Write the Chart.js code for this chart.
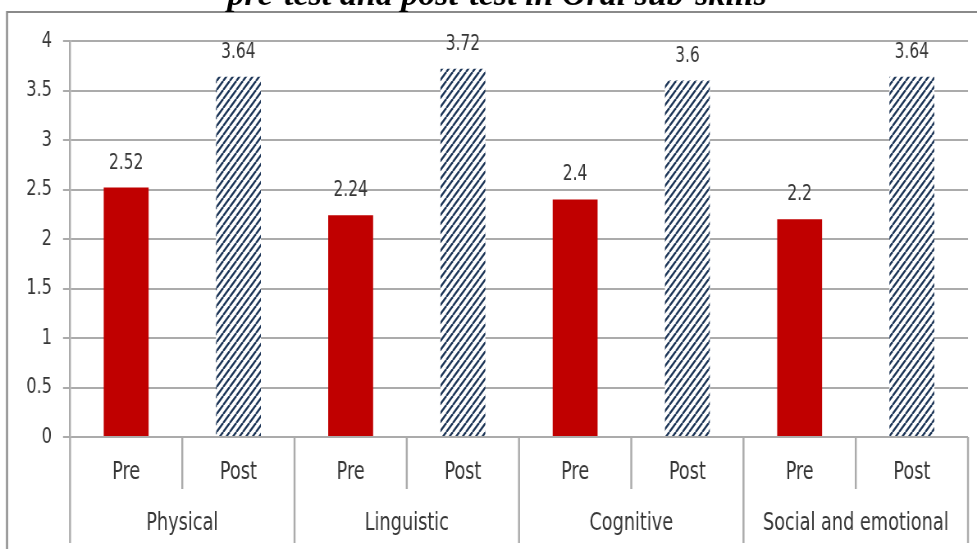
<!DOCTYPE html>
<html>
<head>
<meta charset="utf-8">
<script src="https://cdn.jsdelivr.net/npm/chart.js@4.4.1/dist/chart.umd.min.js"></script>
<style>
  html, body { margin: 0; padding: 0; background: #ffffff; }
  #wrap { width: 977px; height: 549px; overflow: hidden; }
</style>
</head>
<body>
<div id="wrap"><canvas id="chart" style="width:977px;height:549px"></canvas></div>
<script>
// Oral sub-skill scores, pre-test vs post-test
const skills = ['Physical', 'Linguistic', 'Cognitive', 'Social and emotional'];
const testLabels = ['Pre', 'Post'];
const preScores = [2.52, 2.24, 2.4, 2.2];
const postScores = [3.64, 3.72, 3.6, 3.64];
const yTickValues = [0, 0.5, 1, 1.5, 2, 2.5, 3, 3.5, 4];
const titleText = 'pre-test and post-test in Oral sub-skills';

// The canvas is drawn wider than it is shown, so all text comes out condensed.
const S = 0.82;                       // horizontal squeeze factor
const W = 977, H = 549;
const sx = v => v / S;                // on-screen x size -> canvas x size

const FONT = "'DejaVu Sans Condensed', 'Liberation Sans', sans-serif";
const TEXT = '#363636';
const GRID = '#ababab';
const RED = '#c00000';
const NAVY = '#1c3557';

const canvas = document.getElementById('chart');
canvas.width = Math.round(sx(W));
canvas.height = H;

// one category per bar: Pre, Post for every skill
const barLabels = skills.flatMap(() => testLabels);
const preData = skills.flatMap((_, i) => [preScores[i], null]);
const postData = skills.flatMap((_, i) => [null, postScores[i]]);

// diagonal hatch used for the post-test bars
function makeHatch() {
  const w = 8, h = 9;
  const c = document.createElement('canvas');
  c.width = w; c.height = h;
  const g = c.getContext('2d');
  g.fillStyle = '#ffffff';
  g.fillRect(0, 0, w, h);
  g.strokeStyle = NAVY;
  g.lineWidth = 2.3;
  for (const dx of [-w, 0, w]) {
    g.beginPath();
    g.moveTo(dx, h);
    g.lineTo(dx + w, 0);
    g.stroke();
  }
  return g.createPattern(c, 'repeat');
}

const framePlugin = {
  id: 'frame',
  beforeDraw(chart) {
    const ctx = chart.ctx;
    ctx.save();
    ctx.fillStyle = '#ffffff';
    ctx.fillRect(0, 0, chart.width, chart.height);
    // chart box outline
    ctx.strokeStyle = '#8a8a8a';
    ctx.lineWidth = 2;
    ctx.beginPath();
    ctx.moveTo(sx(7), 12);
    ctx.lineTo(chart.width, 12);
    ctx.stroke();
    ctx.lineWidth = sx(2);
    ctx.beginPath();
    ctx.moveTo(sx(7), 11);
    ctx.lineTo(sx(7), chart.height);
    ctx.stroke();
    // heading above the chart box, drawn at natural width
    ctx.scale(1 / S, 1);
    ctx.fillStyle = '#000000';
    ctx.font = "italic bold 34px 'Liberation Serif', serif";
    ctx.textAlign = 'center';
    ctx.textBaseline = 'alphabetic';
    ctx.fillText(titleText, 497, 5);
    ctx.restore();
  },
  afterDraw(chart) {
    // category separators below the plot, long ones between skills
    const x = chart.scales.x;
    const ctx = chart.ctx;
    const n = barLabels.length;
    const step = (x.right - x.left) / n;
    const top = chart.chartArea.bottom;
    ctx.save();
    ctx.strokeStyle = GRID;
    ctx.lineWidth = sx(2);
    for (let i = 0; i <= n; i++) {
      const px = x.left + i * step;
      const bottom = (i % testLabels.length === 0) ? 543 : 489;
      ctx.beginPath();
      ctx.moveTo(px, top);
      ctx.lineTo(px, bottom);
      ctx.stroke();
    }
    ctx.restore();
  },
  afterDatasetsDraw(chart) {
    // value labels above each bar
    const ctx = chart.ctx;
    ctx.save();
    ctx.fillStyle = TEXT;
    ctx.font = '21px ' + FONT;
    ctx.textAlign = 'center';
    ctx.textBaseline = 'alphabetic';
    chart.data.datasets.forEach((ds, di) => {
      chart.getDatasetMeta(di).data.forEach((bar, j) => {
        const v = ds.data[j];
        if (v === null || v === undefined) return;
        ctx.fillText(String(v), bar.x, bar.y - 19);
      });
    });
    ctx.restore();
  }
};

new Chart(canvas, {
  type: 'bar',
  data: {
    labels: barLabels,
    datasets: [
      { label: 'Pre', data: preData, backgroundColor: RED },
      { label: 'Post', data: postData, backgroundColor: makeHatch() }
    ]
  },
  options: {
    responsive: false,
    devicePixelRatio: 1,
    animation: false,
    datasets: { bar: { grouped: false, barPercentage: 0.4, categoryPercentage: 1.0 } },
    layout: { padding: { left: sx(8), top: 41, right: sx(9), bottom: 0 } },
    plugins: { legend: { display: false }, tooltip: { enabled: false }, title: { display: false } },
    scales: {
      y: {
        min: 0, max: 4,
        afterBuildTicks: s => { s.ticks = yTickValues.map(v => ({ value: v })); },
        afterFit: s => { s.width = sx(62); },
        border: { display: true, color: GRID, width: sx(2) },
        grid: { color: GRID, lineWidth: 2, tickLength: sx(7), drawTicks: true },
        ticks: { color: TEXT, font: { family: FONT, size: 22 }, padding: sx(11), callback: v => String(v) }
      },
      x: {
        position: 'bottom',
        afterFit: s => { s.height = 53; },
        border: { display: false },
        grid: { display: false, drawTicks: false },
        ticks: { color: TEXT, font: { family: FONT, size: 24 }, padding: 21, maxRotation: 0, autoSkip: false }
      },
      groups: {
        type: 'category',
        position: 'bottom',
        labels: skills,
        offset: true,
        afterFit: s => { s.height = 59; },
        border: { display: false },
        grid: { display: false, drawTicks: false },
        ticks: { color: TEXT, font: { family: FONT, size: 24 }, padding: 19, maxRotation: 0, autoSkip: false }
      }
    }
  },
  plugins: [framePlugin]
});
</script>
</body>
</html>
